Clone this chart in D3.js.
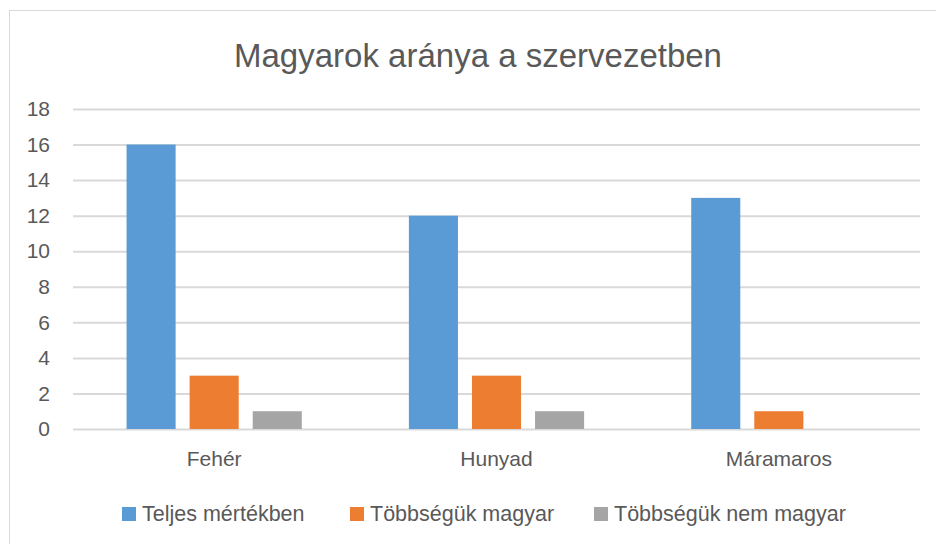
<!DOCTYPE html>
<html lang="hu">
<head>
<meta charset="UTF-8">
<script src="https://d3js.org/d3.v7.min.js"></script>
<title>Magyarok aránya a szervezetben</title>
<style>
  body { margin: 0; background: white; }
  svg text { font-family: "Liberation Sans", Arial, sans-serif; fill: #595959; }
</style>
</head>
<body>
<svg id="chart"></svg>
<script>
const categories = ["Fehér", "Hunyad", "Máramaros"];
const seriesNames = ["Teljes mértékben", "Többségük magyar", "Többségük nem magyar"];
const teljes = [16, 12, 13];
const tobbMagyar = [3, 3, 1];
const tobbNemMagyar = [1, 1, 0];
const yTicks = [0, 2, 4, 6, 8, 10, 12, 14, 16, 18];
const colors = ["#5b9bd5", "#ed7d31", "#a5a5a5"];

const w = 936, h = 544;
const plotLeft = 73, plotRight = 920, plotTop = 109, plotBottom = 429;

const svg = d3.select("#chart").attr("width", w).attr("height", h);

// outer frame
svg.append("rect")
   .attr("x", 9.5).attr("y", 10.5)
   .attr("width", 940).attr("height", 560)
   .attr("fill", "none")
   .attr("stroke", "#d9d9d9");

svg.append("text")
   .attr("x", 478).attr("y", 67)
   .attr("text-anchor", "middle")
   .style("font-size", "33px")
   .text("Magyarok aránya a szervezetben");

const y = d3.scaleLinear().domain([0, 18]).range([plotBottom, plotTop]);
const x0 = d3.scaleBand().domain(categories).range([plotLeft, plotRight]);
const x1 = d3.scaleBand().domain(seriesNames).range([0, x0.bandwidth()])
   .paddingInner(0.222).paddingOuter(0.849);

const yAxis = d3.axisLeft(y).tickValues(yTicks).tickSize(-(plotRight - plotLeft)).tickPadding(23);
const gy = svg.append("g").attr("transform", "translate(" + plotLeft + ",0)").call(yAxis);
gy.select(".domain").remove();
gy.selectAll(".tick line").attr("stroke", "#d9d9d9").attr("stroke-width", 2);
gy.selectAll(".tick text").style("font-size", "21px").attr("fill", "#595959");

const rows = categories.map((c, i) => ({
  cat: c,
  vals: [teljes[i], tobbMagyar[i], tobbNemMagyar[i]]
}));

const groups = svg.selectAll(".grp")
   .data(rows)
   .enter()
   .append("g")
   .attr("class", "grp")
   .attr("transform", d => "translate(" + x0(d.cat) + ",0)");

groups.selectAll("rect")
   .data(d => d.vals.map((v, j) => ({ name: seriesNames[j], v: v, j: j })))
   .enter()
   .append("rect")
   .attr("x", d => x1(d.name))
   .attr("width", x1.bandwidth())
   .attr("y", d => y(d.v))
   .attr("height", d => y(0) - y(d.v))
   .attr("fill", d => colors[d.j]);

const xAxis = d3.axisBottom(x0).tickSize(0).tickPadding(22);
const gx = svg.append("g").attr("transform", "translate(0," + plotBottom + ")").call(xAxis);
gx.select(".domain").remove();
gx.selectAll(".tick text").style("font-size", "21px").attr("fill", "#595959");

// legend
const legendX = [122, 350, 594];
const legend = svg.selectAll(".leg")
   .data(seriesNames)
   .enter()
   .append("g")
   .attr("class", "leg")
   .attr("transform", (d, i) => "translate(" + legendX[i] + ",507)");

legend.append("rect")
   .attr("width", 14).attr("height", 14)
   .attr("fill", (d, i) => colors[i]);

legend.append("text")
   .attr("x", 20).attr("y", 14)
   .style("font-size", "21.5px")
   .text(d => d);
</script>
</body>
</html>
